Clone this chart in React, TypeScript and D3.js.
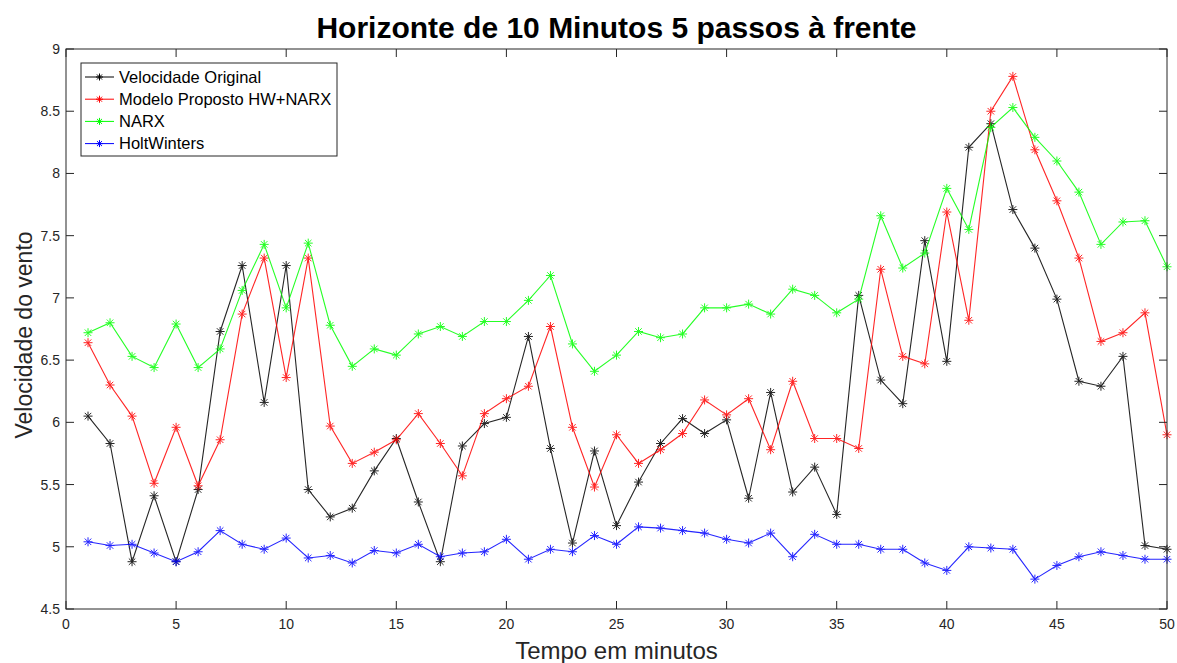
import React from "react";
import * as d3 from "d3";

const minutes: number[] = d3.range(1, 51);

const velocidadeOriginal: number[] = [
  6.05, 5.83, 4.88, 5.41, 4.88, 5.46, 6.73, 7.26, 6.16, 7.26,
  5.46, 5.24, 5.31, 5.61, 5.87, 5.36, 4.88, 5.81, 5.99, 6.04,
  6.69, 5.79, 5.03, 5.77, 5.17, 5.52, 5.83, 6.03, 5.91, 6.02,
  5.39, 6.24, 5.44, 5.64, 5.26, 7.02, 6.34, 6.15, 7.46, 6.49,
  8.21, 8.40, 7.71, 7.40, 6.99, 6.33, 6.29, 6.53, 5.01, 4.98,
];

const modeloProposto: number[] = [
  6.64, 6.30, 6.05, 5.51, 5.96, 5.49, 5.86, 6.87, 7.32, 6.36,
  7.32, 5.97, 5.67, 5.76, 5.86, 6.07, 5.83, 5.57, 6.07, 6.19,
  6.29, 6.77, 5.96, 5.48, 5.90, 5.67, 5.78, 5.91, 6.18, 6.06,
  6.19, 5.78, 6.33, 5.87, 5.87, 5.79, 7.23, 6.53, 6.47, 7.69,
  6.82, 8.50, 8.78, 8.19, 7.78, 7.32, 6.65, 6.72, 6.88, 5.90,
];

const narx: number[] = [
  6.72, 6.80, 6.53, 6.44, 6.79, 6.44, 6.59, 7.06, 7.43, 6.92,
  7.44, 6.78, 6.45, 6.59, 6.54, 6.71, 6.77, 6.69, 6.81, 6.81,
  6.98, 7.18, 6.63, 6.41, 6.54, 6.73, 6.68, 6.71, 6.92, 6.92,
  6.95, 6.87, 7.07, 7.02, 6.88, 6.99, 7.66, 7.24, 7.36, 7.88,
  7.55, 8.37, 8.53, 8.29, 8.10, 7.85, 7.43, 7.61, 7.62, 7.25,
];

const holtWinters: number[] = [
  5.04, 5.01, 5.02, 4.95, 4.88, 4.96, 5.13, 5.02, 4.98, 5.07,
  4.91, 4.93, 4.87, 4.97, 4.95, 5.02, 4.92, 4.95, 4.96, 5.06,
  4.90, 4.98, 4.96, 5.09, 5.02, 5.16, 5.15, 5.13, 5.11, 5.06,
  5.03, 5.11, 4.92, 5.10, 5.02, 5.02, 4.98, 4.98, 4.87, 4.81,
  5.00, 4.99, 4.98, 4.74, 4.85, 4.92, 4.96, 4.93, 4.90, 4.90,
];

const seriesNames: string[] = [
  "Velocidade Original",
  "Modelo Proposto HW+NARX",
  "NARX",
  "HoltWinters",
];
const seriesColors: string[] = ["#000000", "#ff0000", "#00ff00", "#0000ff"];
const seriesValues: number[][] = [velocidadeOriginal, modeloProposto, narx, holtWinters];

const xTicks: number[] = [0, 5, 10, 15, 20, 25, 30, 35, 40, 45, 50];
const yTicks: number[] = [4.5, 5, 5.5, 6, 6.5, 7, 7.5, 8, 8.5, 9];

const W = 1177;
const H = 663;
const M = { left: 66, right: 10, top: 49, bottom: 54 };
const AXIS_COLOR = "#262626";
const TICK_FONT = "'Liberation Sans Narrow', 'Arial Narrow', 'Liberation Sans', Arial, sans-serif";
const FONT = "'Liberation Sans', Arial, Helvetica, sans-serif";

// MATLAB-style asterisk marker: plus + cross
function Asterisk({ x, y, color, r = 4.5 }: { x: number; y: number; color: string; r?: number }) {
  const d = r * 0.72;
  return (
    <path
      d={`M${x - r},${y}H${x + r}M${x},${y - r}V${y + r}M${x - d},${y - d}L${x + d},${y + d}M${x - d},${y + d}L${x + d},${y - d}`}
      stroke={color}
      strokeWidth={1}
      fill="none"
    />
  );
}

export default function App() {
  const x = d3.scaleLinear().domain([0, 50]).range([M.left, W - M.right]);
  const y = d3.scaleLinear().domain([4.5, 9]).range([H - M.bottom, M.top]);
  const line = d3
    .line<number>()
    .x((_, i) => x(minutes[i]))
    .y((v) => y(v));

  const x0 = x(0);
  const x1 = x(50);
  const y0 = y(4.5);
  const y1 = y(9);
  const tickLen = 8;

  const legend = { left: 81, top: 63, width: 256, height: 93 };
  const rowY = (i: number) => legend.top + 14 + i * 22.2;

  return (
    <svg
      width={W}
      height={H}
      style={{ position: "absolute", left: 0, top: 0, background: "#fff" }}
      xmlns="http://www.w3.org/2000/svg"
    >
      <rect x={0} y={0} width={W} height={H} fill="#ffffff" />

      {/* Title */}
      <text
        x={(x0 + x1) / 2}
        y={38}
        textAnchor="middle"
        fontFamily={FONT}
        fontWeight="bold"
        fontSize={30}
        fill="#000"
      >
        Horizonte de 10 Minutos 5 passos à frente
      </text>

      {/* Series */}
      {seriesValues.map((vals, si) => (
        <g key={seriesNames[si]} opacity={0.85}>
          <path d={line(vals) ?? ""} fill="none" stroke={seriesColors[si]} strokeWidth={1.1} />
          {vals.map((v, i) => (
            <Asterisk key={i} x={x(minutes[i])} y={y(v)} color={seriesColors[si]} />
          ))}
        </g>
      ))}

      {/* Axes box */}
      <rect x={x0} y={y1} width={x1 - x0} height={y0 - y1} fill="none" stroke={AXIS_COLOR} strokeWidth={1} />

      {/* X ticks */}
      {xTicks.map((t) => (
        <g key={`x${t}`}>
          <line x1={x(t)} x2={x(t)} y1={y0} y2={y0 - tickLen} stroke={AXIS_COLOR} />
          <line x1={x(t)} x2={x(t)} y1={y1} y2={y1 + tickLen} stroke={AXIS_COLOR} />
          <text
            x={x(t)}
            y={y0 + 20}
            textAnchor="middle"
            fontFamily={TICK_FONT}
            fontSize={14}
            fill={AXIS_COLOR}
          >
            {t}
          </text>
        </g>
      ))}

      {/* Y ticks */}
      {yTicks.map((t) => (
        <g key={`y${t}`}>
          <line x1={x0} x2={x0 + tickLen} y1={y(t)} y2={y(t)} stroke={AXIS_COLOR} />
          <line x1={x1} x2={x1 - tickLen} y1={y(t)} y2={y(t)} stroke={AXIS_COLOR} />
          <text
            x={x0 - 6}
            y={y(t) + 5}
            textAnchor="end"
            fontFamily={TICK_FONT}
            fontSize={14}
            fill={AXIS_COLOR}
          >
            {t}
          </text>
        </g>
      ))}

      {/* Axis labels */}
      <text
        x={(x0 + x1) / 2}
        y={659}
        textAnchor="middle"
        fontFamily={TICK_FONT}
        fontSize={24}
        fill={AXIS_COLOR}
      >
        Tempo em minutos
      </text>
      <text
        transform={`translate(32, ${(y0 + y1) / 2 + 6}) rotate(-90)`}
        textAnchor="middle"
        fontFamily={FONT}
        fontSize={23}
        fill={AXIS_COLOR}
      >
        Velocidade do vento
      </text>

      {/* Legend */}
      <rect
        x={legend.left}
        y={legend.top}
        width={legend.width}
        height={legend.height}
        fill="#fff"
        stroke={AXIS_COLOR}
        strokeWidth={1}
      />
      {seriesNames.map((name, i) => (
        <g key={name}>
          <line x1={85} x2={114} y1={rowY(i)} y2={rowY(i)} stroke={seriesColors[i]} strokeWidth={1} />
          <Asterisk x={99.5} y={rowY(i)} color={seriesColors[i]} r={3.5} />
          <text x={119} y={rowY(i) + 5.5} fontFamily={FONT} fontSize={16.5} fill="#000">
            {name}
          </text>
        </g>
      ))}
    </svg>
  );
}
